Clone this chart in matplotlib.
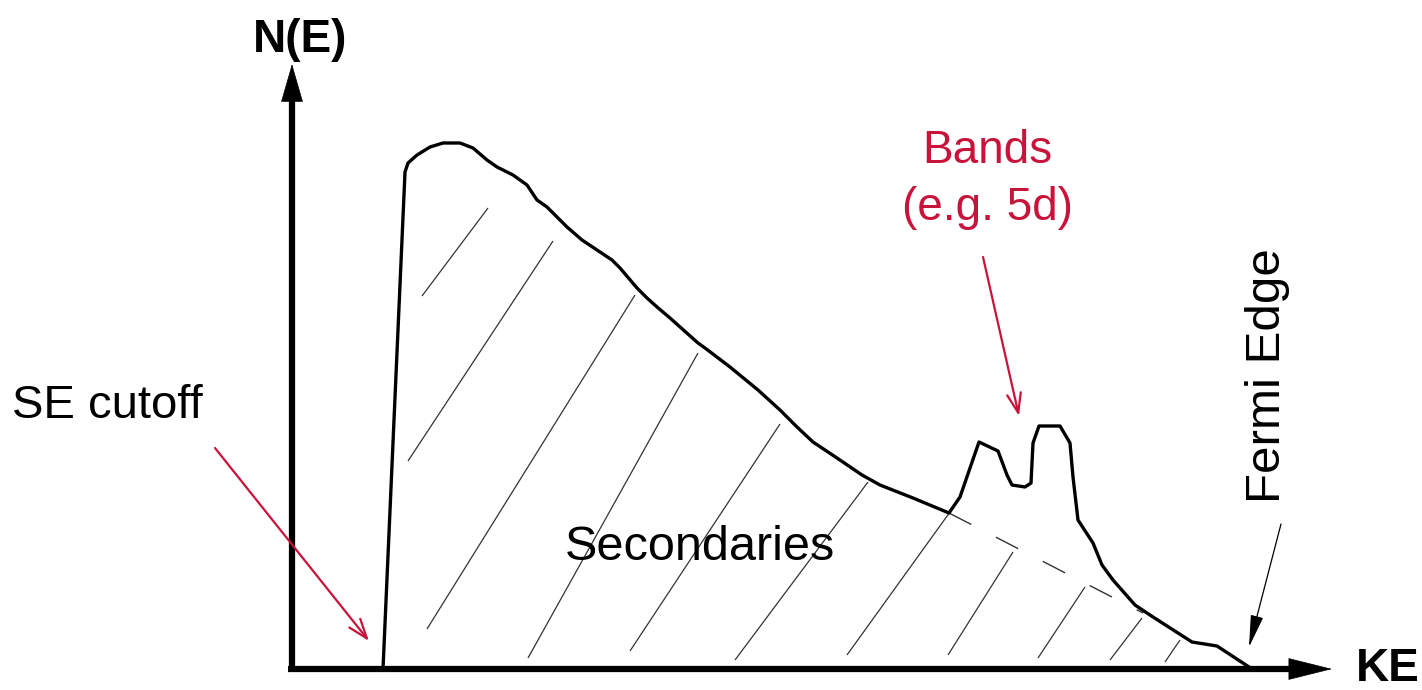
import matplotlib
matplotlib.use("Agg")
import matplotlib.pyplot as plt

plt.rcParams['font.family'] = ['Liberation Sans', 'DejaVu Sans']

# ---- data (KE in drawing units, N(E) = height above KE axis) ----
AXIS_Y = 669  # reference level of the KE axis in the schematic frame

curve_ke = [383, 394, 405, 408, 417, 430, 443, 460, 473, 487, 497, 513, 527, 537,
            547, 567, 582, 597, 612, 620, 637, 647, 657, 670, 698, 705, 730, 758,
            780, 797, 813, 837, 862, 880, 913, 949, 960, 979, 998, 1007, 1012, 1025,
            1031, 1033, 1039, 1060, 1070, 1073, 1078, 1093, 1102, 1113, 1135, 1153,
            1192, 1217, 1249]
curve_y_px = [669, 420, 172, 163, 155, 147, 143, 143, 148, 160, 167, 175, 185, 200,
              207, 227, 240, 250, 260, 268, 288, 298, 307, 318, 343, 348, 367, 390,
              410, 427, 442, 458, 475, 485, 498, 513, 497, 442, 451, 475, 485, 487,
              483, 443, 426, 426, 443, 477, 520, 543, 565, 580, 605, 617,
              642, 646, 667]
curve_ne = [AXIS_Y - v for v in curve_y_px]

# background (secondary) continuation under the band peaks
bg_ke = [949, 1143]
bg_ne = [AXIS_Y - 513, AXIS_Y - 613]

# hatch segments: (ke0, y0_px, ke1, y1_px)
hatch_segments = [
    (422, 296, 488, 208),
    (408, 461, 553, 241),
    (427, 629, 635, 295),
    (528, 658, 698, 353),
    (630, 651, 780, 424),
    (735, 660, 868, 482),
    (847, 655, 950, 512),
    (948, 655, 1013, 552),
    (1038, 658, 1085, 587),
    (1110, 660, 1142, 618),
    (1165, 662, 1180, 640),
]

RED = '#C8133A'

fig = plt.figure(figsize=(14.22, 6.90), dpi=100)
ax = fig.add_axes([0, 0, 1, 1])
ax.set_xlim(0, 1422)
ax.set_ylim(AXIS_Y - 690, AXIS_Y)
ax.axis('off')

# hatch lines
for x0, y0, x1, y1 in hatch_segments:
    ax.plot([x0, x1], [AXIS_Y - y0, AXIS_Y - y1], color='#333333', lw=0.9,
            solid_capstyle='butt')

# background dashed line
ax.plot(bg_ke, bg_ne, color='#333333', lw=1.0, dashes=(18, 20))

# spectrum curve
ax.plot(curve_ke, curve_ne, color='black', lw=2.4, solid_joinstyle='round')

# axes with arrows
ax.plot([292, 292], [-2, AXIS_Y - 95], color='black', lw=4.5, solid_capstyle='butt')
ax.annotate('', xy=(292, AXIS_Y - 64), xytext=(292, AXIS_Y - 110),
            arrowprops=dict(arrowstyle='-|>,head_length=26,head_width=7.5',
                            mutation_scale=1, color='black', lw=0.5,
                            shrinkA=0, shrinkB=0))
ax.plot([288, 1295], [0, 0], color='black', lw=4.5, solid_capstyle='butt')
ax.annotate('', xy=(1332, 0), xytext=(1280, 0),
            arrowprops=dict(arrowstyle='-|>,head_length=30,head_width=7.5',
                            mutation_scale=1, color='black', lw=0.5,
                            shrinkA=0, shrinkB=0))

# axis labels
ax.text(300, AXIS_Y - 40, 'N(E)', fontsize=33, fontweight='bold',
        ha='center', va='center')
ax.text(1388, AXIS_Y - 669, 'KE', fontsize=33, fontweight='bold',
        ha='center', va='center')

# annotations
ax.text(12, AXIS_Y - 418, 'SE cutoff', fontsize=34, ha='left', va='baseline')
ax.annotate('', xy=(369, AXIS_Y - 641), xytext=(215, AXIS_Y - 448),
            arrowprops=dict(arrowstyle='->,head_length=14,head_width=5',
                            mutation_scale=1, color=RED, lw=1.6,
                            shrinkA=0, shrinkB=0))

ax.text(987, AXIS_Y - 163, 'Bands', fontsize=33, color=RED,
        ha='center', va='baseline')
ax.text(987, AXIS_Y - 220, '(e.g. 5d)', fontsize=33, color=RED,
        ha='center', va='baseline')
ax.annotate('', xy=(1019, AXIS_Y - 416), xytext=(983, AXIS_Y - 257),
            arrowprops=dict(arrowstyle='->,head_length=14,head_width=5',
                            mutation_scale=1, color=RED, lw=1.6,
                            shrinkA=0, shrinkB=0))

ax.text(1267, AXIS_Y - 376, 'Fermi Edge', fontsize=35.5, rotation=90,
        ha='center', va='center')
ax.annotate('', xy=(1249, AXIS_Y - 647), xytext=(1281, AXIS_Y - 524),
            arrowprops=dict(arrowstyle='-|>,head_length=20,head_width=4',
                            mutation_scale=1, color='black', lw=0.9,
                            shrinkA=0, shrinkB=0))

ax.text(700, AXIS_Y - 548, 'Secondaries', fontsize=35, ha='center', va='center')

fig.savefig('out.png', dpi=100, facecolor='white')
